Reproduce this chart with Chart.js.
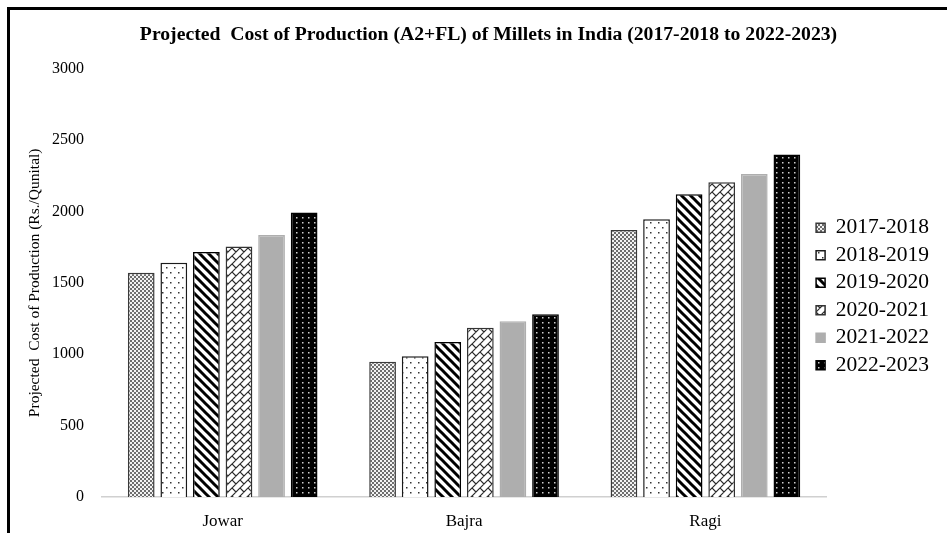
<!DOCTYPE html>
<html>
<head>
<meta charset="utf-8">
<script src="https://cdn.jsdelivr.net/npm/chart.js@4.4.1/dist/chart.umd.min.js"></script>
<style>
  html, body { margin: 0; padding: 0; background: #fff; }
  #wrap { width: 947px; height: 533px; position: relative; }
</style>
</head>
<body>
<div id="wrap"><canvas id="millets"></canvas></div>
<script>
const crops = ['Jowar', 'Bajra', 'Ragi'];
const years = ['2017-2018', '2018-2019', '2019-2020', '2020-2021', '2021-2022', '2022-2023'];
const cost2017 = [1570, 948, 1870];
const cost2018 = [1640, 985, 1945];
const cost2019 = [1715, 1085, 2120];
const cost2020 = [1755, 1185, 2205];
const cost2021 = [1835, 1230, 2262];
const cost2022 = [1993, 1280, 2398];
const yTicks = [0, 500, 1000, 1500, 2000, 2500, 3000];

const serif = "'Liberation Serif', 'Times New Roman', serif";

// small tiles used as bar fills
function makePattern(w, h, paint) {
  const c = document.createElement('canvas');
  c.width = w; c.height = h;
  const g = c.getContext('2d');
  paint(g, w, h);
  return g.createPattern(c, 'repeat');
}

const checker = makePattern(4, 4, (g) => {
  g.fillStyle = '#6e6e6e'; g.fillRect(0, 0, 4, 4);
  g.fillStyle = '#f2f2f2';
  g.fillRect(0, 0, 2, 2); g.fillRect(2, 2, 2, 2);
});

const dots = makePattern(8, 10, (g) => {
  g.fillStyle = '#fff'; g.fillRect(0, 0, 8, 10);
  g.fillStyle = '#333';
  g.fillRect(2, 2, 1.5, 1.5); g.fillRect(6, 7, 1.5, 1.5);
});

const stripes = makePattern(9, 9, (g) => {
  g.fillStyle = '#fff'; g.fillRect(0, 0, 9, 9);
  g.strokeStyle = '#000'; g.lineWidth = 3;
  for (let k = -9; k <= 9; k += 9) {
    g.beginPath(); g.moveTo(k - 2, -2); g.lineTo(k + 11, 11); g.stroke();
  }
});

const bricks = makePattern(8, 8, (g) => {
  g.fillStyle = '#fff'; g.fillRect(0, 0, 8, 8);
  g.strokeStyle = '#2a2a2a'; g.lineWidth = 1.2;
  g.beginPath();
  g.moveTo(-1, 9); g.lineTo(9, -1);
  g.moveTo(-1, 1); g.lineTo(1, -1);
  g.moveTo(7, 9); g.lineTo(9, 7);
  g.moveTo(0, 0); g.lineTo(4, 4);
  g.stroke();
});

const darkDots = makePattern(6, 5, (g) => {
  g.fillStyle = '#000'; g.fillRect(0, 0, 6, 5);
  g.fillStyle = '#cfcfcf';
  g.fillRect(2, 2, 1.5, 1.5);
});

const series = [cost2017, cost2018, cost2019, cost2020, cost2021, cost2022];
const fills = [checker, dots, stripes, bricks, '#aeaeae', darkDots];
const edges = ['#3a3a3a', '#1a1a1a', '#000', '#333', '#aeaeae', '#000'];

// page frame lines and white backdrop
const framePlugin = {
  id: 'frame',
  beforeDraw(chart) {
    const ctx = chart.ctx;
    ctx.save();
    ctx.fillStyle = '#fff';
    ctx.fillRect(0, 0, chart.width, chart.height);
    ctx.fillStyle = '#000';
    ctx.fillRect(7, 7, chart.width - 7, 3);
    ctx.fillRect(7, 7, 3, chart.height - 7);
    ctx.restore();
  }
};

// pull the legend column a little closer to the plot
const legendNudge = {
  id: 'legendNudge',
  afterLayout(chart) {
    const lg = chart.legend;
    if (!lg) return;
    lg.left -= 16;
    lg.right -= 16;
  }
};

new Chart(document.getElementById('millets'), {
  type: 'bar',
  data: {
    labels: crops,
    datasets: years.map((y, i) => ({
      label: y,
      data: series[i],
      backgroundColor: fills[i],
      borderColor: edges[i],
      borderWidth: 1.5,
      categoryPercentage: 0.81,
      barPercentage: 0.82
    }))
  },
  options: {
    responsive: true,
    maintainAspectRatio: false,
    animation: false,
    layout: { padding: { left: 22, right: -8, top: 0, bottom: 0 } },
    plugins: {
      title: {
        display: true,
        text: 'Projected  Cost of Production (A2+FL) of Millets in India (2017-2018 to 2022-2023)',
        color: '#000',
        font: { family: serif, size: 19.7, weight: 'bold' },
        padding: { top: 23, bottom: 22 }
      },
      legend: {
        position: 'right',
        align: 'start',
        title: {
          display: true,
          text: '',
          font: { size: 10, lineHeight: 1 },
          padding: { top: 201, bottom: 0 }
        },
        labels: {
          color: '#000',
          font: { family: serif, size: 21.5 },
          boxWidth: 9,
          boxHeight: 9,
          padding: 6
        }
      },
      tooltip: { enabled: false }
    },
    scales: {
      x: {
        grid: { display: false, drawTicks: false },
        border: { color: '#d0d0d0', width: 1.5 },
        ticks: { color: '#000', font: { family: serif, size: 17 }, padding: 14 },
        afterFit(scale) { scale.height = 36; }
      },
      y: {
        min: 0,
        max: 3000,
        grid: { display: false, drawTicks: false },
        border: { display: false },
        afterBuildTicks(scale) { scale.ticks = yTicks.map(v => ({ value: v })); },
        ticks: {
          color: '#000',
          font: { family: serif, size: 16 },
          padding: 18,
          callback: (v) => String(v)
        },
        title: {
          display: true,
          text: 'Projected  Cost of Production (Rs./Qunital)',
          color: '#000',
          font: { family: serif, size: 15.5 }
        },
        afterFit(scale) { scale.width = 80; }
      }
    }
  },
  plugins: [framePlugin, legendNudge]
});
</script>
</body>
</html>
